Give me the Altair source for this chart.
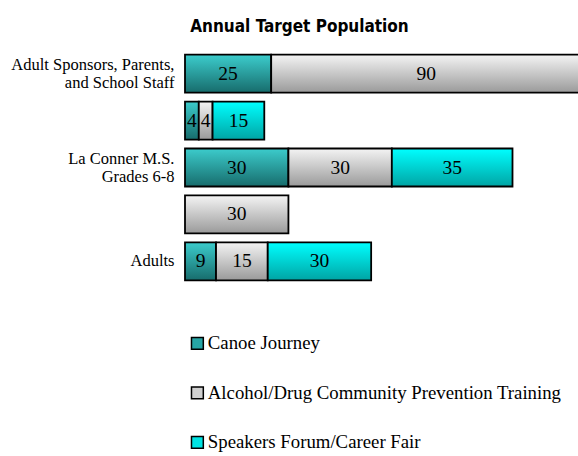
import altair as alt
import pandas as pd

# Data
rows = ["Adult Sponsors, Parents,|and School Staff", " ", "La Conner M.S.|Grades 6-8", "  ", "Adults"]
series = ["Canoe Journey", "Alcohol/Drug Community Prevention Training", "Speakers Forum/Career Fair"]
canoe = [25, 4, 30, None, 9]
alcohol = [90, 4, 30, 30, 15]
speakers = [None, 15, 35, None, 30]

records = []
for i, r in enumerate(rows):
    for j, (s, vals) in enumerate(zip(series, [canoe, alcohol, speakers])):
        v = vals[i]
        if v is not None:
            records.append({"row": r, "series": s, "order": j, "value": v})
df = pd.DataFrame(records)

grads = {
    series[0]: alt.Gradient(gradient="linear", x1=0, x2=0, y1=0, y2=1,
                            stops=[alt.GradientStop(color="#3ccccc", offset=0),
                                   alt.GradientStop(color="#176c6c", offset=1)]),
    series[1]: alt.Gradient(gradient="linear", x1=0, x2=0, y1=0, y2=1,
                            stops=[alt.GradientStop(color="#f4f4f4", offset=0),
                                   alt.GradientStop(color="#9a9a9a", offset=1)]),
    series[2]: alt.Gradient(gradient="linear", x1=0, x2=0, y1=0, y2=1,
                            stops=[alt.GradientStop(color="#00ffff", offset=0),
                                   alt.GradientStop(color="#00a4a4", offset=1)]),
}
legend_colors = ["#27a5a5", "#cfcfcf", "#00e2e2"]

xscale = alt.Scale(domain=[0, 114], nice=False, zero=True)
yscale = alt.Scale(domain=rows, paddingInner=0.19, paddingOuter=0.1)
yaxis = alt.Axis(title=None, domain=False, ticks=False, grid=False,
                 labelExpr="split(datum.label, '|')", labelFont="Liberation Serif",
                 labelFontSize=16.5, labelColor="black", labelPadding=11,
                 labelLineHeight=18, labelBaseline="middle", labelLimit=300,
                 labelOffset={"condition": {"test": "indexof(datum.label, '|') >= 0", "value": -9},
                              "value": 0})

base = alt.Chart(df).transform_stack(
    stack="value", groupby=["row"], as_=["x0", "x1"],
    sort=[alt.SortField("order", "ascending")]
)

layers = []
for s in series:
    layers.append(
        base.transform_filter(alt.datum.series == s)
        .mark_bar(color=grads[s], stroke="black", strokeWidth=1.8)
        .encode(
            x=alt.X("x0:Q", scale=xscale, axis=None),
            x2="x1:Q",
            y=alt.Y("row:N", scale=yscale, axis=yaxis, sort=rows),
        )
    )

# legend helper: zero-width bars carrying the color legend
legend_layer = alt.Chart(df).mark_bar(strokeWidth=0).encode(
    x=alt.value(0), x2=alt.value(0),
    y=alt.Y("row:N", scale=yscale, axis=yaxis, sort=rows),
    color=alt.Color("series:N", scale=alt.Scale(domain=series, range=legend_colors),
                    legend=alt.Legend(title=None, orient="none", legendX=3, legendY=284,
                                      symbolType="square", symbolSize=140,
                                      symbolStrokeColor="black", symbolStrokeWidth=1.5,
                                      labelFont="Liberation Serif", labelFontSize=18.8,
                                      labelColor="black", labelOffset=1,
                                      rowPadding=29.5, labelLimit=500)),
)

text = base.transform_calculate(mid="(datum.x0 + datum.x1) / 2").mark_text(
    font="Liberation Serif", fontSize=19.5, color="black", baseline="middle", align="center"
).encode(
    x=alt.X("mid:Q", scale=xscale, axis=None),
    y=alt.Y("row:N", scale=yscale, axis=yaxis, sort=rows),
    text="value:Q",
)

chart = alt.layer(*layers, legend_layer, text).properties(
    width=393, height=235,
    background="white",
    title=alt.TitleParams("Annual Target Population",
                          font="'Liberation Sans Narrow', 'DejaVu Sans Condensed', 'Liberation Sans'",
                          fontSize=17, fontWeight="bold", color="black",
                          anchor="middle", dx=-82, offset=14),
    padding={"left": 185, "top": 50, "right": 0, "bottom": 171},
    autosize=alt.AutoSizeParams(type="none"),
).configure_view(strokeWidth=0, stroke="transparent").configure_axis(
    grid=False, domain=False, ticks=False
)

chart.save("out.html", embed_options={"renderer": "svg", "actions": False})
